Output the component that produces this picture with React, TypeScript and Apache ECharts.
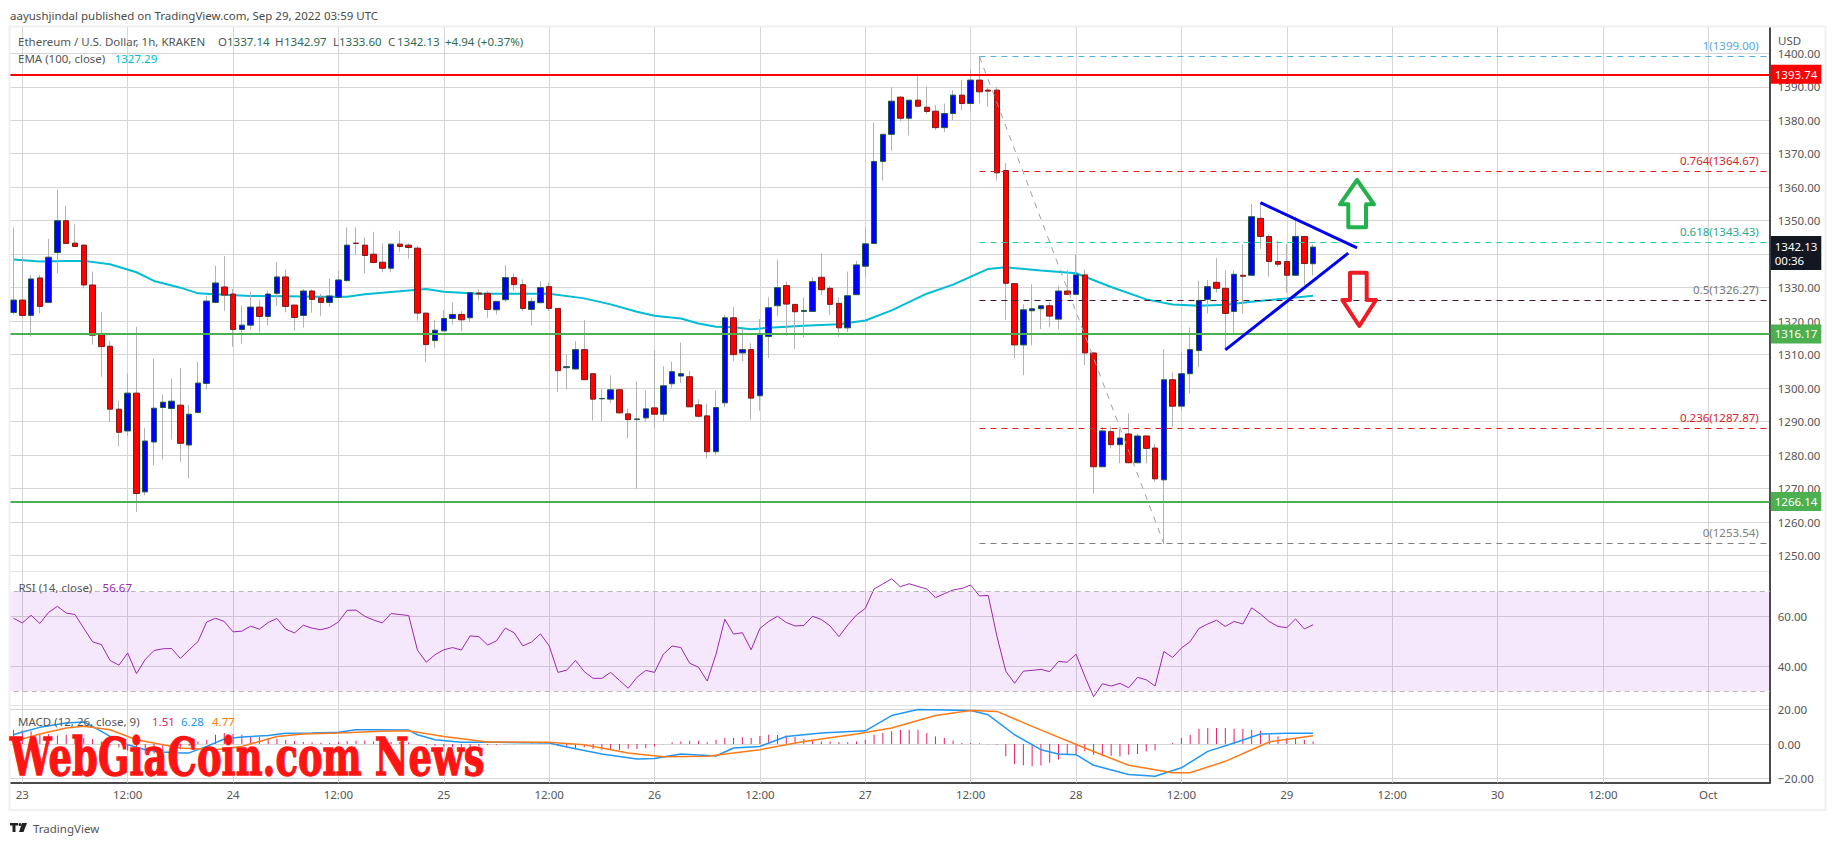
import React, { useEffect, useRef } from "react";
import * as echarts from "echarts";

// ---------- data ----------
const firstHour = -2; // hours relative to Sep 23 00:00
const lastHour = 199;
const dayLabels: Record<number, string> = { 0: "23", 24: "24", 48: "25", 72: "26", 96: "27", 120: "28", 144: "29", 168: "30", 192: "Oct" };

// [open, close, low, high], one row per hour, from Sep 22 23:00
const candles: number[][] = [
  [1322.6,1326.3,1322.0,1348.0],[1326.3,1321.7,1321.0,1339.2],[1321.7,1332.6,1315.4,1333.8],[1332.9,1324.4,1322.3,1333.8],
  [1325.6,1339.1,1325.6,1344.6],[1340.5,1350.0,1334.3,1359.3],[1350.0,1343.2,1343.2,1354.5],[1343.3,1342.3,1342.3,1348.8],
  [1342.7,1330.8,1329.8,1343.0],[1330.8,1315.8,1313.0,1334.8],[1316.1,1312.4,1303.4,1322.8],[1312.5,1293.7,1289.9,1314.1],
  [1293.7,1286.8,1282.6,1296.2],[1287.2,1298.5,1285.8,1304.3],[1298.5,1268.5,1263.0,1318.3],[1269.0,1284.2,1268.0,1288.1],
  [1283.9,1294.0,1277.0,1308.8],[1294.2,1295.8,1278.7,1298.0],[1293.9,1296.1,1284.7,1302.8],[1294.9,1283.5,1278.0,1306.0],
  [1283.0,1292.2,1273.0,1295.0],[1292.7,1301.5,1292.7,1307.9],[1301.4,1326.0,1299.6,1327.5],[1325.6,1331.4,1325.3,1336.6],
  [1330.2,1327.8,1323.1,1339.5],[1328.1,1317.5,1312.4,1329.6],[1317.5,1318.8,1313.3,1324.6],[1318.8,1324.2,1317.5,1328.8],
  [1324.2,1321.4,1316.6,1326.1],[1321.4,1328.1,1318.6,1329.1],[1328.3,1333.2,1324.6,1337.7],[1333.2,1324.4,1322.6,1335.4],
  [1324.8,1321.1,1317.1,1324.8],[1321.7,1329.0,1318.1,1329.6],[1329.0,1326.5,1322.5,1329.4],[1326.9,1325.6,1321.6,1328.1],
  [1325.6,1327.5,1324.3,1332.7],[1327.1,1332.3,1327.1,1335.0],[1332.1,1342.7,1331.8,1348.0],[1343.3,1343.2,1340.0,1348.0],
  [1342.7,1339.6,1334.3,1345.0],[1340.0,1337.5,1337.3,1346.7],[1337.6,1335.8,1334.6,1343.2],[1335.8,1343.0,1334.6,1343.0],
  [1343.0,1342.3,1340.7,1347.0],[1342.7,1342.0,1338.7,1343.2],[1341.8,1322.4,1320.1,1342.5],[1322.4,1313.0,1307.7,1322.4],
  [1314.2,1317.3,1311.9,1320.3],[1317.1,1320.8,1317.1,1323.3],[1320.8,1322.0,1319.0,1325.6],[1322.0,1320.4,1317.0,1323.0],
  [1321.0,1328.5,1319.8,1328.5],[1328.4,1328.1,1326.2,1329.5],[1328.3,1323.5,1321.0,1329.1],[1323.4,1325.9,1322.0,1325.9],
  [1326.4,1333.0,1325.7,1336.7],[1333.0,1330.9,1329.0,1334.2],[1330.9,1323.8,1323.0,1332.5],[1323.5,1325.9,1318.6,1327.0],
  [1325.5,1330.0,1325.5,1331.9],[1330.3,1323.8,1323.0,1331.5],[1323.8,1305.2,1298.8,1323.8],[1306.1,1306.4,1299.6,1310.0],
  [1305.7,1311.5,1305.5,1314.0],[1311.5,1302.5,1302.5,1320.3],[1304.3,1296.7,1290.3,1304.3],[1296.8,1296.9,1290.0,1299.8],
  [1296.7,1299.5,1295.5,1303.8],[1299.5,1292.6,1292.6,1299.8],[1292.3,1290.6,1285.0,1293.8],[1290.6,1290.8,1270.0,1302.0],
  [1291.1,1293.8,1290.0,1299.3],[1294.1,1292.2,1288.0,1311.3],[1292.2,1300.7,1290.0,1306.5],[1301.3,1304.9,1300.1,1307.9],
  [1303.6,1304.3,1301.5,1313.6],[1303.4,1294.4,1294.4,1305.1],[1295.0,1291.6,1291.3,1296.6],[1291.7,1281.0,1279.0,1295.3],
  [1281.0,1294.2,1280.0,1299.3],[1295.6,1321.0,1294.3,1321.8],[1321.0,1310.0,1308.1,1324.2],[1310.5,1311.5,1308.1,1317.8],
  [1311.5,1297.0,1290.7,1313.4],[1297.7,1316.3,1293.3,1320.6],[1315.4,1324.0,1309.0,1327.1],[1324.6,1330.0,1321.6,1338.4],
  [1330.6,1325.1,1315.6,1331.9],[1325.0,1322.8,1311.7,1325.0],[1322.9,1323.2,1315.2,1327.1],[1322.9,1331.8,1322.9,1333.1],
  [1333.1,1329.4,1327.8,1340.2],[1329.8,1325.0,1321.8,1330.5],[1325.3,1318.0,1315.3,1327.0],[1318.0,1327.6,1316.7,1334.8],
  [1327.9,1336.8,1327.9,1338.0],[1336.4,1343.1,1333.1,1348.1],[1343.2,1367.7,1343.2,1379.2],[1367.7,1375.8,1362.0,1375.8],
  [1375.8,1385.7,1370.9,1389.9],[1386.9,1380.6,1379.6,1387.3],[1380.6,1386.0,1375.5,1386.0],[1386.0,1384.2,1383.8,1393.5],
  [1383.9,1382.6,1382.0,1390.1],[1382.7,1377.8,1377.1,1384.6],[1377.8,1382.0,1376.5,1385.0],[1382.0,1387.5,1380.0,1389.0],
  [1387.5,1385.0,1383.0,1392.0],[1385.0,1392.0,1383.0,1395.0],[1392.0,1388.5,1385.0,1399.0],[1389.0,1388.7,1384.0,1390.0],
  [1389.0,1364.3,1362.0,1390.0],[1365.0,1331.3,1320.3,1367.2],[1331.2,1312.9,1308.9,1331.2],[1312.9,1323.4,1303.9,1325.0],
  [1323.1,1323.7,1312.8,1331.0],[1323.7,1324.6,1317.6,1324.6],[1324.6,1321.5,1318.2,1325.6],[1320.6,1329.0,1317.6,1330.6],
  [1329.0,1328.0,1328.0,1335.3],[1328.0,1333.8,1328.0,1339.9],[1333.8,1310.5,1306.9,1335.4],[1310.5,1276.5,1268.5,1310.5],
  [1276.5,1287.2,1276.5,1288.5],[1287.0,1283.1,1282.0,1288.5],[1283.1,1285.1,1277.6,1287.8],[1286.3,1277.7,1277.7,1292.4],
  [1277.7,1285.7,1277.7,1286.3],[1285.7,1282.0,1277.6,1285.7],[1282.1,1272.9,1272.0,1283.3],[1272.6,1302.5,1253.54,1311.6],
  [1302.5,1294.6,1288.3,1304.7],[1294.6,1304.3,1293.3,1310.8],[1304.3,1311.5,1298.5,1318.1],[1311.2,1326.2,1306.3,1332.0],
  [1326.5,1330.3,1322.3,1332.3],[1331.6,1329.8,1328.5,1338.8],[1329.8,1322.3,1311.3,1335.2],[1322.9,1334.0,1315.9,1335.2],
  [1333.7,1333.4,1322.3,1343.0],[1333.7,1351.2,1333.7,1355.0],[1350.7,1345.3,1341.6,1355.2],[1345.3,1337.8,1333.3,1345.9],
  [1337.8,1337.0,1336.2,1344.0],[1337.8,1333.7,1328.5,1343.0],[1333.7,1345.3,1333.7,1351.2],[1345.3,1337.2,1330.8,1345.3],
  [1337.14,1342.13,1333.6,1342.97],
];

// [hour, value]
const emaPoints: number[][] = [
  [-1,1338.4],[2,1337.8],[5,1338],[7,1338],[10,1337],[13,1334.6],[15,1332],[18,1330],[20,1328.3],[23,1327.9],[26,1327.5],[30,1327.4],[34,1327.3],[37,1327.3],[39,1328],[43,1328.9],[46,1329.6],[48,1328.8],[52,1328.2],[60,1328.2],[64,1326.8],[67,1325],[70,1322.8],[72,1321.6],[75,1320.8],[77,1319.3],[79,1318.3],[81,1318.2],[83,1317.6],[85,1318],[89,1318.6],[93,1319.1],[96,1320.2],[99,1323.2],[103,1328.2],[106,1330.9],[110,1335.6],[112,1336.1],[116,1335.1],[120,1334.3],[124,1330.2],[128,1326.5],[131,1325],[134,1324.6],[137,1324.9],[140,1325.8],[144,1326.8],[147,1327.6],
];

const rsiValues: number[] = [
  59.3,57.4,60.5,57.2,61.7,64.1,61.4,60.8,55.3,49.8,48.7,42.3,40.4,45.3,37.0,42.7,46.3,47.0,47.1,43.1,46.6,49.9,57.8,59.3,58.0,53.8,54.1,56.1,54.9,57.6,59.2,54.9,53.4,56.5,55.3,54.7,55.6,57.8,62.5,62.6,60.1,58.6,57.4,61.2,60.8,60.4,46.5,41.6,44.6,46.6,47.5,46.5,52.2,51.9,48.5,50.2,55.3,53.5,48.2,49.7,53.0,48.2,37.5,38.4,42.3,37.8,35.1,
  35.1,37.5,34.3,31.1,35.5,38.3,37.5,44.8,48.1,47.5,41.2,39.6,34.0,44.8,58.9,52.9,53.5,46.6,55.2,58.0,60.1,57.6,56.2,56.4,60.1,58.8,56.2,51.9,56.6,60.6,63.3,71.1,73.1,75.2,72.0,73.2,72.1,71.1,67.6,69.2,70.7,71.3,72.7,68.3,68.5,51.9,38.0,33.1,38.0,38.3,38.7,37.8,41.9,41.6,44.8,35.9,27.7,32.9,32.0,33.1,31.3,35.5,34.5,32.0,45.9,43.5,47.3,49.9,55.2,
  57,58.5,56,58,57,63.5,61,58,56,55.5,59,55,56.67,
];

const macdHistogram: number[] = [
  8.3,7.9,7.4,5.4,5.8,5.0,5.4,4.4,3.5,2.9,1.5,-0.5,-2,-4,-5,-6,-5.5,-5,-4,-3,-1,1.5,2.5,5.4,6.4,5.8,5.4,4.4,4.1,3.5,3.1,2.3,1.7,1.2,1,0.8,0.6,1.2,1.7,1.9,2.1,1.5,1.4,1.2,1.2,1,0,-0.8,-1,-1.4,-1.8,-1.8,-1.8,-1.4,-0.8,-0.4,-0.2,-0.1,0.2,0.3,0.3,0.2,-1,-1.9,-2.3,-1.9,-2.9,-3.3,-2.9,-3.5,-2.7,-2.9,-2.3,-1.4,-0.2,1,1.5,1.9,1.9,1,2.3,3.5,3.5,3.9,3.5,4.6,5.4,5.2,5,4.1,3.1,2.5,1.5,1.5,1.2,1,1.5,2.5,5.4,6.4,7.4,8.1,8.3,8.3,6.4,4.4,3.5,2.1,0.6,0.6,0.4,-0.2,-0.4,-7.2,-11.6,-12.4,-13,-12.6,-11,-9.1,-6.2,-5.8,-4.3,-6.2,-7.2,-6.8,-7.2,-6.2,-5.8,-4.3,-3.7,0,0.6,3.5,5.4,8.9,9.3,9.3,9.3,8.9,8.7,8.3,7.7,5.4,4.4,3.5,2.9,2.5,1.51,
];

const macdPoints: number[][] = [
  [-1,5.4],[0,7],[2,9.7],[5,12.2],[7,12.8],[8,10.3],[10,4.4],[12,-0.4],[14,-3.3],[16,-4.6],[18,-5.2],[19,-5.2],[21,-1.4],[23,2.9],[25,4.1],[28,5],[30,6.2],[33,6.4],[36,6.8],[38,8.3],[40,8.3],[44,8.1],[45,5.4],[47,2.5],[50,1],[54,1],[60,0.6],[62,-1.7],[66,-5.8],[70,-8.7],[72,-8.5],[75,-5.8],[79,-7],[81,-2.3],[84,-1.4],[87,4.4],[91,6.4],[96,7.7],[99,16.6],[102,20.1],[108,19.5],[110,17],[113,5.4],[116,-3.3],[118,-5.8],[120,-6.2],[122,-12.4],[126,-17.8],[129,-18.8],[132,-13.9],[135,-4.3],[138,0.6],[141,5.8],[144,6.2],[147,6.28],
];
const signalPoints: number[][] = [
  [-1,1.5],[2,5.8],[5,9.3],[7,10.3],[10,8.3],[13,2.5],[18,-2.3],[22,-3.3],[25,-1.4],[29,4.4],[32,5.8],[36,6.4],[41,7.4],[44,7.7],[48,4.4],[53,1.2],[60,1],[64,-0.4],[69,-5.2],[73,-7.5],[78,-7.2],[84,-3.3],[89,1.5],[95,5.8],[99,9.3],[104,16.6],[108,19.5],[111,19],[115,10.3],[121,-2.3],[126,-12.4],[131,-16.8],[133,-16.8],[137,-10.1],[142,1.2],[147,4.77],
];

const horizontalLevels = [
  { value: 1393.74, color: "#ff0000" },
  { value: 1316.17, color: "#4caf50" },
  { value: 1266.14, color: "#4caf50" },
];
const fibLevels = [
  { ratio: "1", value: 1399.0, line: "#4fb0e6", text: "#5aa7d8" },
  { ratio: "0.764", value: 1364.67, line: "#e01f1f", text: "#d8232a" },
  { ratio: "0.618", value: 1343.43, line: "#1fd19b", text: "#26a68a" },
  { ratio: "0.5", value: 1326.27, line: "#4a1535", text: "#777777" },
  { ratio: "0.236", value: 1287.87, line: "#e01f1f", text: "#d8232a" },
  { ratio: "0", value: 1253.54, line: "#808080", text: "#808080" },
];
const triangleUpper: number[][] = [[141, 1355.4], [152, 1341.9]];
const triangleLower: number[][] = [[137, 1311.4], [151, 1340.3]];
// the reference's price box covers this tick label
const hiddenPriceTicks = [1340];

const FONT = '"Noto Sans", sans-serif';
const hours: number[] = [];
for (let h = firstHour; h <= lastHour; h++) hours.push(h);
const categories = hours.map((h) => `h${h}`);
const toIndex = (h: number) => h - firstHour;
const tickLabel = (h: number) => (h % 24 === 0 ? dayLabels[h] : h % 12 === 0 ? "12:00" : "");
const isTick = (index: number) => hours[index] % 12 === 0;

const LEFT = 4.74;
const WIDTH = 1765;
const pairs = (list: number[][]) => list.map(([h, v]) => [toIndex(h), v]);
const pad = [null as any];

export default function App() {
  const ref = useRef<HTMLDivElement>(null);
  useEffect(() => {
    document.body.style.margin = "0";
    document.body.style.overflow = "hidden";
    const chart = echarts.init(ref.current!, undefined, { renderer: "svg" });

    const levelLines = horizontalLevels.map((l) => ({
      yAxis: l.value,
      lineStyle: { color: l.color, width: 2, type: "solid" as const },
      label: {
        show: true,
        position: "end" as const,
        distance: 1,
        formatter: l.value.toFixed(2),
        color: "#fff",
        backgroundColor: l.color,
        padding: [4, 4, 3, 4],
        fontFamily: FONT,
        fontSize: 11.5,
      },
    }));
    const fibLines = fibLevels.map((f) => [
      {
        xAxis: categories[toIndex(109)],
        yAxis: f.value,
        lineStyle: { color: f.line, width: 1, type: [6, 5] as any },
        label: {
          show: true,
          position: "insideEndTop" as const,
          formatter: `${f.ratio}(${f.value.toFixed(2)})`,
          color: f.text,
          fontFamily: FONT,
          fontSize: 11.5,
          padding: [0, 6, 0, 0],
        },
      },
      { xAxis: categories[categories.length - 1], yAxis: f.value },
    ]);
    const fibDiagonal = [
      { xAxis: categories[toIndex(109)], yAxis: 1399, lineStyle: { color: "#a0a0a0", width: 1, type: [6, 6] as any }, label: { show: false } },
      { xAxis: categories[toIndex(130)], yAxis: 1253.54 },
    ];
    const lastPrice = [
      {
        xAxis: categories[categories.length - 2],
        yAxis: 1342.13,
        lineStyle: { width: 0, color: "transparent" },
        label: {
          show: true,
          position: "end" as const,
          distance: 1,
          formatter: "1342.13\n00:36",
          color: "#fff",
          backgroundColor: "#131722",
          padding: [3, 4, 3, 4],
          lineHeight: 14,
          offset: [0, 6],
          fontFamily: FONT,
          fontSize: 11.5,
        },
      },
      { xAxis: categories[categories.length - 1], yAxis: 1342.13 },
    ];

    const text = (t: string, x: number, y: number, fill: string, extra: any = {}) => ({
      type: "text",
      z: 60,
      x,
      y,
      silent: true,
      style: { text: t, fill, font: `11.5px ${FONT}`, textVerticalAlign: "middle", verticalAlign: "middle", ...extra },
    });
    const axisGray = "#555555";
    const valueGreen = "#2f6b52";

    const gridLine = { show: true, showMinLine: false, showMaxLine: false, lineStyle: { color: "#d6d6d6", width: 1 } };
    const yLabel = (fmt: (v: number) => string) => ({
      show: true,
      showMinLabel: false,
      showMaxLabel: false,
      color: axisGray,
      fontFamily: FONT,
      fontSize: 11.5,
      margin: 8,
      formatter: fmt,
    });

    const hiddenX = (gridIndex: number) => ({
      type: "category" as const,
      gridIndex,
      data: categories,
      boundaryGap: false,
      show: false,
    });

    chart.setOption({
      animation: false,
      backgroundColor: "#ffffff",
      tooltip: { show: false },
      grid: [
        { left: LEFT, width: WIDTH, top: 19.82, height: 569.16 },
        { left: LEFT, width: WIDTH, top: 566.87, height: 148.95 },
        { left: LEFT, width: WIDTH, top: 675.4, height: 137.2 },
        { left: LEFT, width: WIDTH, top: 27, height: 755.7 },
      ],
      xAxis: [
        hiddenX(0),
        hiddenX(1),
        hiddenX(2),
        {
          type: "category",
          gridIndex: 3,
          data: categories,
          boundaryGap: false,
          axisLine: { show: true, lineStyle: { color: "#4a4a4a", width: 2 } },
          axisTick: { show: true, inside: true, length: 755.7, interval: (i: number) => isTick(i), lineStyle: { color: "#d6d6d6", width: 1 } },
          axisLabel: {
            show: true,
            interval: (i: number) => isTick(i),
            formatter: (_v: string, i: number) => tickLabel(hours[i]),
            color: axisGray,
            fontFamily: FONT,
            fontSize: 11.5,
            margin: 6,
            hideOverlap: false,
          },
        },
      ],
      yAxis: [
        {
          type: "value",
          gridIndex: 0,
          position: "right",
          min: 1240,
          max: 1410,
          interval: 10,
          axisLine: { show: false },
          axisTick: { show: false },
          splitLine: gridLine,
          axisLabel: yLabel((v) => (hiddenPriceTicks.includes(v) ? "" : v.toFixed(2))),
        },
        {
          type: "value",
          gridIndex: 1,
          position: "right",
          min: 20,
          max: 80,
          interval: 20,
          axisLine: { show: false },
          axisTick: { show: false },
          splitLine: gridLine,
          axisLabel: yLabel((v) => v.toFixed(2)),
        },
        {
          type: "value",
          gridIndex: 2,
          position: "right",
          min: -40,
          max: 40,
          interval: 20,
          axisLine: { show: false },
          axisTick: { show: false },
          splitLine: gridLine,
          axisLabel: yLabel((v) => (v < 0 ? "\u2212" + Math.abs(v).toFixed(2) : v.toFixed(2))),
        },
        {
          type: "value",
          gridIndex: 3,
          position: "right",
          min: 0,
          max: 1,
          axisLine: { show: true, onZero: false, lineStyle: { color: "#4a4a4a", width: 2 } },
          axisTick: { show: false },
          splitLine: { show: false },
          axisLabel: { show: false },
        },
      ],
      series: [
        {
          name: "Wicks",
          type: "candlestick",
          xAxisIndex: 0,
          yAxisIndex: 0,
          silent: true,
          clip: false,
          barWidth: 1,
          z: 2,
          itemStyle: { color: "#b2b2b2", color0: "#b2b2b2", borderColor: "#b2b2b2", borderColor0: "#b2b2b2", borderWidth: 1 },
          data: [["-", "-", "-", "-"], ...candles],
        },
        {
          name: "ETHUSD",
          type: "candlestick",
          xAxisIndex: 0,
          yAxisIndex: 0,
          silent: true,
          clip: false,
          barWidth: 6,
          z: 3,
          itemStyle: { color: "#0000ff", color0: "#ff0000", borderColor: "#1f5c3e", borderColor0: "#7d1a1a", borderWidth: 1 },
          data: [["-", "-", "-", "-"], ...candles.map(([o, c]) => [o, c, Math.min(o, c), Math.max(o, c)])],
          markLine: {
            silent: true,
            symbol: "none",
            z: 6,
            animation: false,
            data: [...levelLines, ...fibLines, fibDiagonal, lastPrice],
          },
        },
        {
          name: "EMA (100, close)",
          type: "line",
          xAxisIndex: 0,
          yAxisIndex: 0,
          silent: true,
          z: 1,
          showSymbol: false,
          lineStyle: { color: "#00bcd4", width: 2 },
          data: pairs(emaPoints),
        },
        {
          name: "Upper trend",
          type: "line",
          xAxisIndex: 0,
          yAxisIndex: 0,
          silent: true,
          z: 7,
          showSymbol: false,
          lineStyle: { color: "#0000f0", width: 3 },
          data: pairs(triangleUpper),
        },
        {
          name: "Lower trend",
          type: "line",
          xAxisIndex: 0,
          yAxisIndex: 0,
          silent: true,
          z: 7,
          showSymbol: false,
          lineStyle: { color: "#0000f0", width: 3 },
          data: pairs(triangleLower),
        },
        {
          name: "RSI (14, close)",
          type: "line",
          xAxisIndex: 1,
          yAxisIndex: 1,
          silent: true,
          z: 4,
          showSymbol: false,
          lineStyle: { color: "#9c27b0", width: 1 },
          data: [...pad, ...rsiValues],
          markArea: {
            silent: true,
            itemStyle: { color: "rgba(163,47,238,0.11)" },
            data: [[{ yAxis: 70 }, { yAxis: 30 }]],
          },
          markLine: {
            silent: true,
            symbol: "none",
            label: { show: false },
            lineStyle: { color: "#b9b5bb", width: 1, type: [5, 4] as any },
            data: [{ yAxis: 70 }, { yAxis: 30 }],
          },
        },
        {
          name: "Histogram",
          type: "bar",
          xAxisIndex: 2,
          yAxisIndex: 2,
          silent: true,
          barWidth: 1,
          itemStyle: { color: "#e91e63" },
          data: [...pad, ...macdHistogram],
        },
        {
          name: "MACD",
          type: "line",
          xAxisIndex: 2,
          yAxisIndex: 2,
          silent: true,
          z: 4,
          showSymbol: false,
          lineStyle: { color: "#2196f3", width: 1.5 },
          data: pairs(macdPoints),
        },
        {
          name: "Signal",
          type: "line",
          xAxisIndex: 2,
          yAxisIndex: 2,
          silent: true,
          z: 4,
          showSymbol: false,
          lineStyle: { color: "#ff7a1a", width: 1.5 },
          data: pairs(signalPoints),
        },
      ],
      graphic: {
        elements: [
          { type: "rect", z: 40, silent: true, shape: { x: 0, y: 0, width: 9, height: 845 }, style: { fill: "#ffffff" } },
          { type: "rect", z: 41, silent: true, shape: { x: 9.5, y: 26.5, width: 1816, height: 783.5 }, style: { fill: "none", stroke: "#eff0f4", lineWidth: 2 } },
          { type: "rect", z: 41, silent: true, shape: { x: 10, y: 571, width: 1759, height: 1 }, style: { fill: "#e2e2e8" } },
          { type: "rect", z: 41, silent: true, shape: { x: 10, y: 705, width: 1759, height: 1 }, style: { fill: "#e2e2e8" } },
          {
            type: "polygon", z: 42, silent: true,
            shape: { points: [[1357, 180], [1374, 204.3], [1366, 204.3], [1366, 227.3], [1348.3, 227.3], [1348.3, 204.3], [1340, 204.3]] },
            style: { fill: "none", stroke: "#22b14c", lineWidth: 4, lineJoin: "round" },
          },
          {
            type: "polygon", z: 42, silent: true,
            shape: { points: [[1359.3, 326], [1376, 300], [1366.7, 300], [1366.7, 272.7], [1350, 272.7], [1350, 300], [1342.3, 300]] },
            style: { fill: "none", stroke: "#ed1c24", lineWidth: 4, lineJoin: "round" },
          },
          text("aayushjindal published on TradingView.com, Sep 29, 2022 03:59 UTC", 10, 15, "#4a4a4a"),
          text("Ethereum / U.S. Dollar, 1h, KRAKEN", 18, 41.5, "#555555"),
          text("O", 218, 41.5, "#555555"), text("1337.14", 227, 41.5, valueGreen),
          text("H", 275, 41.5, "#555555"), text("1342.97", 284, 41.5, valueGreen),
          text("L", 333, 41.5, "#555555"), text("1333.60", 339, 41.5, valueGreen),
          text("C", 388, 41.5, "#555555"), text("1342.13", 397, 41.5, valueGreen),
          text("+4.94 (+0.37%)", 445, 41.5, valueGreen),
          text("EMA (100, close)", 18, 58.7, "#555555"),
          text("1327.29", 114.7, 58.7, "#00bcd4"),
          text("RSI (14, close)", 18.4, 587, "#555555"),
          text("56.67", 102.6, 587, "#9c27b0"),
          text("MACD (12, 26, close, 9)", 18, 721, "#555555"),
          text("1.51", 152, 721, "#e91e63"),
          text("6.28", 181, 721, "#2196f3"),
          text("4.77", 212, 721, "#f57c00"),
          text("USD", 1778, 40, "#555555"),
          {
            type: "text", z: 70, silent: true, x: 10, y: 757, scaleX: 0.925, scaleY: 1.3,
            style: { text: "WebGiaCoin.com News", fill: "#ff1414", stroke: "#ff1414", lineWidth: 1, font: 'bold 40px "DejaVu Serif", serif', verticalAlign: "middle", textVerticalAlign: "middle" },
          },
          { type: "rect", z: 60, silent: true, shape: { x: 10, y: 823, width: 8, height: 2.5 }, style: { fill: "#222" } },
          { type: "rect", z: 60, silent: true, shape: { x: 12.5, y: 823, width: 3, height: 9 }, style: { fill: "#222" } },
          { type: "circle", z: 60, silent: true, shape: { cx: 20, cy: 824.5, r: 1.5 }, style: { fill: "#222" } },
          { type: "polygon", z: 60, silent: true, shape: { points: [[22, 823], [27, 823], [23.5, 832], [19, 832]] }, style: { fill: "#222" } },
          text("TradingView", 33, 828, "#555555"),
        ],
      },
    });
    return () => chart.dispose();
  }, []);
  return <div ref={ref} style={{ width: 1834, height: 845 }} />;
}
